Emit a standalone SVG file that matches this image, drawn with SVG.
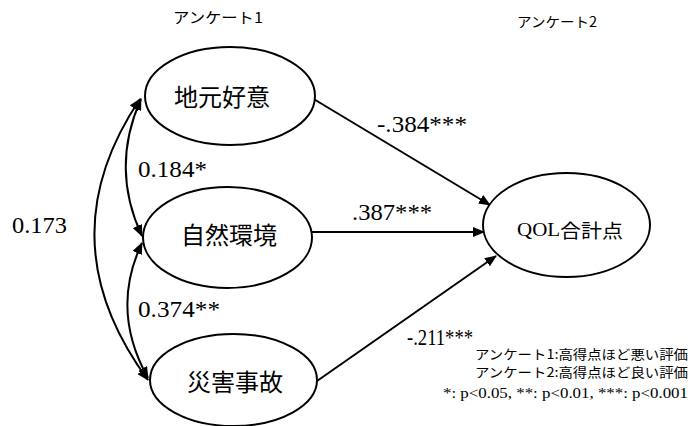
<svg xmlns="http://www.w3.org/2000/svg" width="691" height="426" viewBox="0 0 691 426">
<style>
.node{fill:#fff;stroke:#000;stroke-width:2}
.edge{fill:none;stroke:#000;stroke-width:2}
.jp{font-family:"Noto Sans CJK JP","Noto Sans",sans-serif;fill:#000}
.lbl{font-size:24px;text-anchor:middle;dominant-baseline:central}
</style>
<defs>
<marker id="ah" viewBox="0 0 12 10" refX="11" refY="5" markerWidth="12" markerHeight="10" markerUnits="userSpaceOnUse" orient="auto-start-reverse">
<path d="M0,0 L12,5 L0,10 z" fill="#000"/>
</marker>
</defs>
<rect width="691" height="426" fill="#fff"/>
<text class="jp" x="173" y="23" font-size="15" textLength="90" lengthAdjust="spacingAndGlyphs">アンケート1</text>
<text class="jp" x="517" y="27" font-size="14" textLength="80" lengthAdjust="spacingAndGlyphs">アンケート2</text>
<g id="connectors">
<path class="edge" d="M312,98 L490,205" marker-end="url(#ah)"/>
<path class="edge" d="M312,232 L484,232" marker-end="url(#ah)"/>
<path class="edge" d="M317,381 L496,256" marker-end="url(#ah)"/>
<path class="edge" d="M140,99 Q45,240 148,380" marker-start="url(#ah)" marker-end="url(#ah)"/>
<path class="edge" d="M141,99 Q110,168 142,236" marker-start="url(#ah)" marker-end="url(#ah)"/>
<path class="edge" d="M142,243 Q110,310 148,378" marker-start="url(#ah)" marker-end="url(#ah)"/>
<g font-family="Liberation Serif, serif" font-size="23" fill="#000">
<text x="377" y="132" textLength="90" lengthAdjust="spacingAndGlyphs">-.384***</text>
<text x="352" y="220" textLength="80" lengthAdjust="spacingAndGlyphs">.387***</text>
<text x="407" y="345" textLength="66" lengthAdjust="spacingAndGlyphs">-.211***</text>
<text x="138" y="177" textLength="69" lengthAdjust="spacingAndGlyphs">0.184*</text>
<text x="12" y="233" textLength="55" lengthAdjust="spacingAndGlyphs">0.173</text>
<text x="138" y="317" textLength="82" lengthAdjust="spacingAndGlyphs">0.374**</text>
</g>
</g>
<g id="n1">
<ellipse class="node" cx="230" cy="96" rx="85" ry="49"/>
<text class="jp lbl" x="222" y="95">地元好意</text>
</g>
<g id="n2">
<ellipse class="node" cx="227.5" cy="237.5" rx="84.5" ry="50.5"/>
<text class="jp lbl" x="229" y="233.5">自然環境</text>
</g>
<g id="n3">
<ellipse class="node" cx="233.5" cy="380" rx="83.5" ry="46"/>
<text class="jp lbl" x="235" y="380">災害事故</text>
</g>
<g id="n4">
<ellipse class="node" cx="566.5" cy="225" rx="83.5" ry="52"/>
<text x="570" y="229" text-anchor="middle" dominant-baseline="central" textLength="106" lengthAdjust="spacingAndGlyphs"><tspan font-family="Liberation Serif, serif" font-size="19">QOL</tspan><tspan class="jp" font-size="19">合計点</tspan></text>
</g>
<text class="jp" x="688" y="359" font-size="13" text-anchor="end" textLength="213" lengthAdjust="spacingAndGlyphs">アンケート1:高得点ほど悪い評価</text>
<text class="jp" x="688" y="377" font-size="13" text-anchor="end" textLength="213" lengthAdjust="spacingAndGlyphs">アンケート2:高得点ほど良い評価</text>
<text x="688" y="398" font-family="Liberation Serif, serif" font-size="15" text-anchor="end" textLength="245" lengthAdjust="spacingAndGlyphs">*: p&lt;0.05, **: p&lt;0.01, ***: p&lt;0.001</text>
</svg>
